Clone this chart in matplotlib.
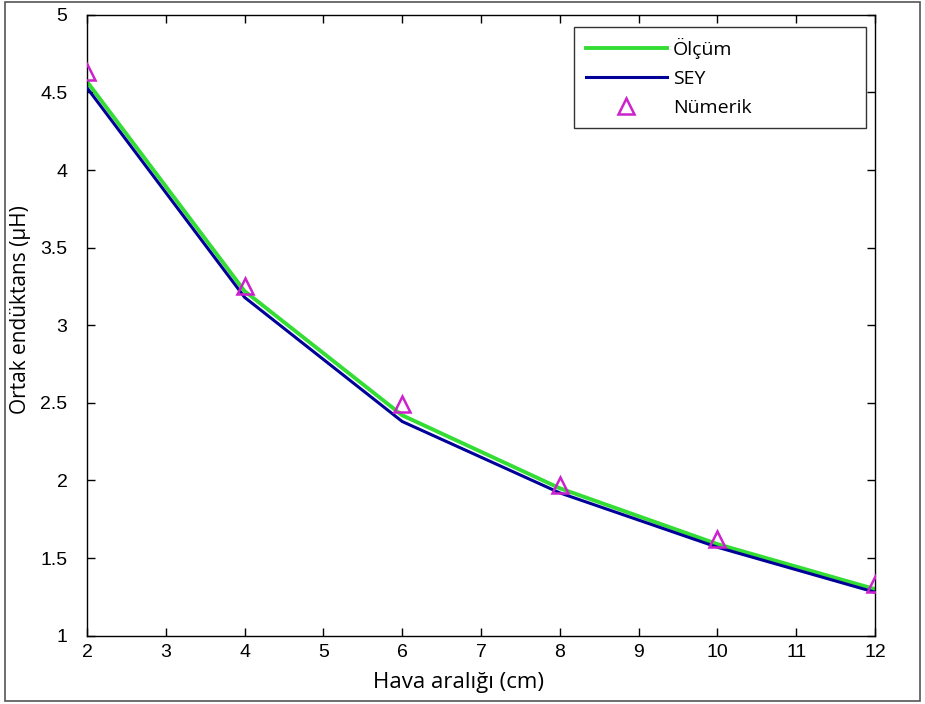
import matplotlib
matplotlib.use("Agg")
import matplotlib.pyplot as plt
from matplotlib.patches import Rectangle

x = [2, 4, 6, 8, 10, 12]
olcum = [4.57, 3.22, 2.42, 1.95, 1.59, 1.30]
sey = [4.53, 3.18, 2.38, 1.92, 1.57, 1.28]
numerik = [4.63, 3.25, 2.49, 1.97, 1.62, 1.33]

xticks = list(range(2, 13))
yticks = [1, 1.5, 2, 2.5, 3, 3.5, 4, 4.5, 5]
ytick_labels = ["1", "1.5", "2", "2.5", "3", "3.5", "4", "4.5", "5"]

plt.rcParams['font.family'] = ['Liberation Sans', 'DejaVu Sans']

fig = plt.figure(figsize=(9.25, 7.04), dpi=100)
ax = fig.add_axes([0.094, 0.097, 0.852, 0.882])

ax.plot(x, olcum, color='#33dd33', lw=2.8, label='Ölçüm', zorder=2)
ax.plot(x, sey, color='#000099', lw=2.2, label='SEY', zorder=3)
ax.plot(x, numerik, linestyle='none', marker='^', markersize=11, markerfacecolor='none',
        markeredgecolor='#cc22cc', markeredgewidth=1.8, label='Nümerik', zorder=4)

ax.set_xlim(2, 12)
ax.set_ylim(1, 5)
ax.set_xticks(xticks)
ax.set_yticks(yticks)
ax.set_yticklabels(ytick_labels)
ax.tick_params(direction='in', top=True, right=True, length=6, width=1)
ax.tick_params(axis='y', labelsize=14, pad=14)
ax.tick_params(axis='x', labelsize=14, pad=6)
for s in ax.spines.values():
    s.set_linewidth(1.0)

ax.set_xlabel('Hava aralığı (cm)', fontsize=16, family=['Open Sans', 'DejaVu Sans'])
ax.set_ylabel('Ortak endüktans (µH)', fontsize=15, family=['Open Sans', 'DejaVu Sans'])
ax.xaxis.set_label_coords(0.471, -0.058)
ax.yaxis.set_label_coords(-0.071, 0.525)

leg = ax.legend(loc='upper left', bbox_to_anchor=(0.618, 0.815, 0.371, 0.166), mode='expand',
                frameon=True, fancybox=False, edgecolor='black', handlelength=4.2,
                borderpad=0.6, labelspacing=0.55, handletextpad=0.3, borderaxespad=0,
                prop={'family': ['Open Sans', 'DejaVu Sans'], 'size': 14})
leg.get_frame().set_linewidth(1.0)

fig.patches.append(Rectangle((0.005, 0.004), 0.99, 0.993, transform=fig.transFigure,
                             fill=False, edgecolor='#555555', lw=1.2))

fig.savefig('out.png', dpi=100)
